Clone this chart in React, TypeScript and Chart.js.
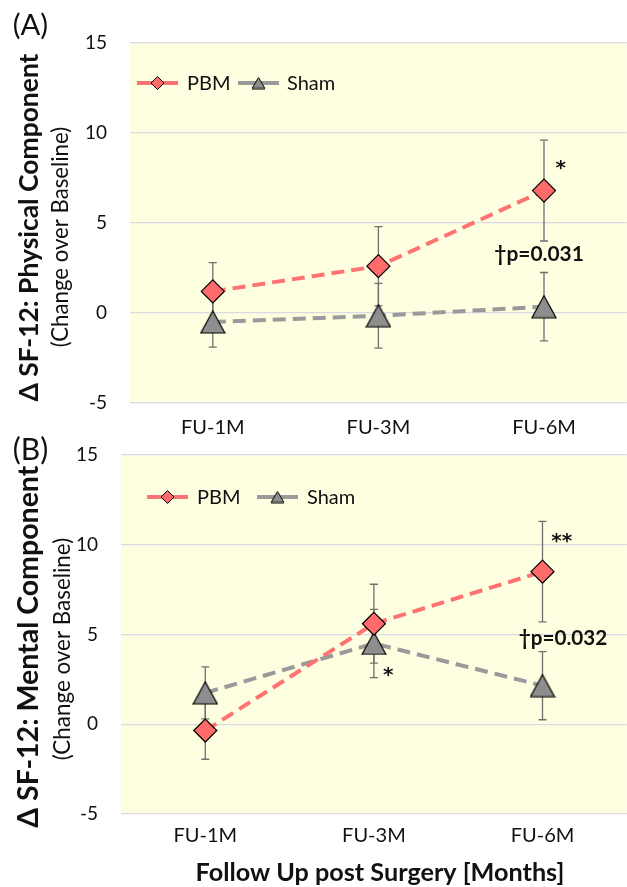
import React, { useEffect, useRef } from 'react';
import { Chart, registerables } from 'chart.js';

Chart.register(...registerables);

// ---------------- data ----------------
const categories = ['FU-1M', 'FU-3M', 'FU-6M'];
const seriesNames = ['PBM', 'Sham'];
const yMin = -5;
const yMax = 15;
const yStep = 5;

const physPBM = [1.2, 2.6, 6.8];
const physPBMErr = [1.6, 2.2, 2.8];
const physSham = [-0.5, -0.15, 0.35];
const physShamErr = [1.4, 1.8, 1.9];

const mentPBM = [-0.35, 5.6, 8.5];
const mentPBMErr = [1.6, 2.2, 2.8];
const mentSham = [1.75, 4.5, 2.15];
const mentShamErr = [1.45, 1.9, 1.9];

const physNotes = ['*', '\u2020p=0.031'];
const mentNotes = ['**', '\u2020p=0.032', '*'];

// ---------------- styles ----------------
const FONT = 'Lato, "Open Sans", sans-serif';
const STAR_FONT = 'bold 20px "DejaVu Sans", sans-serif';
const PBM_LINE = '#ff7272';
const PBM_FILL = '#ff6b6b';
const SHAM_LINE = '#9a9a9a';
const SHAM_FILL = '#8e8e8e';
const GRID = '#d9d9e2';
const PLOT_BG = '#fefee1';
const TEXT = '#111111';
const ERR = '#6f6f6f';

function makeTriangle(w: number, h: number, fill: string, lw: number) {
  const c = document.createElement('canvas');
  c.width = Math.ceil(w + 2);
  c.height = Math.ceil(h + 2);
  const ctx = c.getContext('2d')!;
  const ox = (c.width - w) / 2;
  const oy = (c.height - h) / 2;
  ctx.beginPath();
  ctx.moveTo(ox + w / 2, oy);
  ctx.lineTo(ox + w, oy + h);
  ctx.lineTo(ox, oy + h);
  ctx.closePath();
  ctx.fillStyle = fill;
  ctx.fill();
  ctx.strokeStyle = '#000';
  ctx.lineWidth = lw;
  ctx.lineJoin = 'miter';
  ctx.stroke();
  return c;
}

function drawCentered(ctx: CanvasRenderingContext2D, text: string, cx: number, cy: number, font: string, rotate = false) {
  ctx.save();
  ctx.font = font;
  ctx.fillStyle = TEXT;
  ctx.textAlign = 'left';
  ctx.textBaseline = 'alphabetic';
  const m = ctx.measureText(text);
  const w = m.actualBoundingBoxLeft + m.actualBoundingBoxRight;
  const h = m.actualBoundingBoxAscent + m.actualBoundingBoxDescent;
  ctx.translate(cx, cy);
  if (rotate) ctx.rotate(-Math.PI / 2);
  ctx.fillText(text, -w / 2 + m.actualBoundingBoxLeft, h / 2 - m.actualBoundingBoxDescent);
  ctx.restore();
}

function fitFont(ctx: CanvasRenderingContext2D, text: string, weight: string, target: number) {
  ctx.save();
  ctx.font = `${weight} 20px ${FONT}`;
  const m = ctx.measureText(text);
  ctx.restore();
  const w = m.actualBoundingBoxLeft + m.actualBoundingBoxRight;
  return `${weight} ${((20 * target) / w).toFixed(2)}px ${FONT}`;
}

type Ann = { ds: number; idx: number; text: string; dx: number; dy: number; font?: string; len?: number };
type Panel = {
  key: string;
  label: string;
  top: number;
  height: number;
  area: { left: number; right: number; top: number; bottom: number };
  xTickPad: number;
  pbm: number[];
  pbmErr: number[];
  sham: number[];
  shamErr: number[];
  title: string;
  titleLen: number;
  titleC: [number, number];
  sub: string;
  subLen: number;
  subC: [number, number];
  labelC: [number, number];
  legendY: number;
  legend: { x0: number; x1: number; tx: number }[];
  anns: Ann[];
  xTitle?: { text: string; len: number; c: [number, number] };
};

const CANVAS_W = 640;

const panels: Panel[] = [
  {
    key: 'A',
    label: '(A)',
    top: 0,
    height: 445,
    area: { left: 130, right: 634, top: 43, bottom: 403 },
    xTickPad: 13,
    pbm: physPBM,
    pbmErr: physPBMErr,
    sham: physSham,
    shamErr: physShamErr,
    title: '\u0394 SF-12: Physical Component',
    titleLen: 349,
    titleC: [30, 227.5],
    sub: '(Change over Baseline)',
    subLen: 220,
    subC: [60, 237],
    labelC: [30.5, 26],
    legendY: 83,
    legend: [
      { x0: 137, x1: 178, tx: 187 },
      { x0: 238, x1: 279, tx: 287 },
    ],
    anns: [
      { ds: 0, idx: 2, text: physNotes[0], dx: 17, dy: -26, font: STAR_FONT },
      { ds: 0, idx: 2, text: physNotes[1], dx: -5.5, dy: 64, len: 89 },
    ],
  },
  {
    key: 'B',
    label: '(B)',
    top: 430,
    height: 457,
    area: { left: 121, right: 628, top: 25, bottom: 384 },
    xTickPad: 10,
    pbm: mentPBM,
    pbmErr: mentPBMErr,
    sham: mentSham,
    shamErr: mentShamErr,
    title: '\u0394 SF-12: Mental Component',
    titleLen: 363,
    titleC: [30, 216.5],
    sub: '(Change over Baseline)',
    subLen: 222,
    subC: [62, 219],
    labelC: [30.5, 19.5],
    legendY: 67,
    legend: [
      { x0: 147, x1: 188, tx: 197 },
      { x0: 257, x1: 298, tx: 307 },
    ],
    anns: [
      { ds: 0, idx: 2, text: mentNotes[0], dx: 19.5, dy: -33.3, font: STAR_FONT },
      { ds: 0, idx: 2, text: mentNotes[1], dx: 20.5, dy: 67.3, len: 88 },
      { ds: 1, idx: 1, text: mentNotes[2], dx: 14.5, dy: 29, font: STAR_FONT },
    ],
    xTitle: { text: 'Follow Up post Surgery [Months]', len: 366, c: [380, 443] },
  },
];

function makePlugin(p: Panel, errs: number[][], legendTri: HTMLCanvasElement) {
  return {
    id: 'panel' + p.key,
    beforeDraw(chart: any) {
      const { ctx, chartArea } = chart;
      ctx.save();
      ctx.fillStyle = PLOT_BG;
      ctx.fillRect(chartArea.left, chartArea.top, chartArea.right - chartArea.left, chartArea.bottom - chartArea.top);
      ctx.restore();
    },
    beforeDatasetsDraw(chart: any) {
      const { ctx } = chart;
      const xs = chart.scales.x;
      const ys = chart.scales.y;
      ctx.save();
      ctx.strokeStyle = ERR;
      ctx.lineWidth = 1.3;
      chart.data.datasets.forEach((ds: any, di: number) => {
        ds.data.forEach((v: number, i: number) => {
          const e = errs[di][i];
          const x = xs.getPixelForValue(i);
          const yt = ys.getPixelForValue(v + e);
          const yb = ys.getPixelForValue(v - e);
          ctx.beginPath();
          ctx.moveTo(x, yt);
          ctx.lineTo(x, yb);
          ctx.moveTo(x - 4, yt);
          ctx.lineTo(x + 4, yt);
          ctx.moveTo(x - 4, yb);
          ctx.lineTo(x + 4, yb);
          ctx.stroke();
        });
      });
      ctx.restore();
    },
    afterDraw(chart: any) {
      const { ctx } = chart;
      // panel label
      drawCentered(ctx, p.label, p.labelC[0], p.labelC[1], fitFont(ctx, p.label, 'normal', 35));
      // y titles
      drawCentered(ctx, p.title, p.titleC[0], p.titleC[1], fitFont(ctx, p.title, 'bold', p.titleLen), true);
      drawCentered(ctx, p.sub, p.subC[0], p.subC[1], fitFont(ctx, p.sub, 'normal', p.subLen), true);
      if (p.xTitle) {
        drawCentered(ctx, p.xTitle.text, p.xTitle.c[0], p.xTitle.c[1], fitFont(ctx, p.xTitle.text, 'bold', p.xTitle.len));
      }
      // legend
      const colors = [PBM_LINE, SHAM_LINE];
      p.legend.forEach((it, i) => {
        const cy = p.legendY;
        ctx.save();
        ctx.strokeStyle = colors[i];
        ctx.lineWidth = 4;
        ctx.beginPath();
        ctx.moveTo(it.x0, cy);
        ctx.lineTo(it.x1, cy);
        ctx.stroke();
        const mx = (it.x0 + it.x1) / 2;
        if (i === 0) {
          const r = 6.5;
          ctx.beginPath();
          ctx.moveTo(mx - r, cy);
          ctx.lineTo(mx, cy - r);
          ctx.lineTo(mx + r, cy);
          ctx.lineTo(mx, cy + r);
          ctx.closePath();
          ctx.fillStyle = PBM_FILL;
          ctx.fill();
          ctx.strokeStyle = '#000';
          ctx.lineWidth = 1;
          ctx.stroke();
        } else {
          ctx.drawImage(legendTri, mx - legendTri.width / 2, cy - legendTri.height / 2);
        }
        ctx.font = `20px ${FONT}`;
        ctx.fillStyle = TEXT;
        ctx.textBaseline = 'alphabetic';
        ctx.textAlign = 'left';
        const hm = ctx.measureText('H');
        const capH = hm.actualBoundingBoxAscent;
        ctx.fillText(seriesNames[i], it.tx, cy + capH / 2);
        ctx.restore();
      });
      // annotations
      const xs = chart.scales.x;
      const ys = chart.scales.y;
      p.anns.forEach((a) => {
        const v = chart.data.datasets[a.ds].data[a.idx];
        const x = xs.getPixelForValue(a.idx) + a.dx;
        const y = ys.getPixelForValue(v) + a.dy;
        const font = a.font ? a.font : fitFont(ctx, a.text, 'bold', a.len || 88);
        drawCentered(ctx, a.text, x, y, font);
      });
    },
  };
}

function PanelChart({ p }: { p: Panel }) {
  const ref = useRef<HTMLCanvasElement | null>(null);
  useEffect(() => {
    const canvas = ref.current!;
    const tri = makeTriangle(24, 22, SHAM_FILL, 1.2);
    const legendTri = makeTriangle(13, 11, SHAM_FILL, 1);
    const errs = [p.pbmErr, p.shamErr];
    const xAxisH = p.height - p.area.bottom;
    const zeroPad = (s: any) => {
      s.paddingLeft = 0;
      s.paddingRight = 0;
      s.paddingTop = 0;
      s.paddingBottom = 0;
    };
    const chart = new Chart(canvas, {
      type: 'line',
      data: {
        labels: categories,
        datasets: [
          {
            label: seriesNames[0],
            data: p.pbm,
            borderColor: PBM_LINE,
            borderWidth: 4,
            borderDash: [13, 7],
            tension: 0,
            fill: false,
            pointStyle: 'rectRot',
            pointRadius: 11.5,
            pointHoverRadius: 11.5,
            pointBackgroundColor: PBM_FILL,
            pointBorderColor: '#000',
            pointBorderWidth: 1.2,
          },
          {
            label: seriesNames[1],
            data: p.sham,
            borderColor: SHAM_LINE,
            borderWidth: 4,
            borderDash: [13, 7],
            tension: 0,
            fill: false,
            pointStyle: tri as any,
            pointRadius: 12,
            pointHoverRadius: 12,
            pointBackgroundColor: SHAM_FILL,
            pointBorderColor: '#000',
            pointBorderWidth: 1.2,
          },
        ],
      },
      options: {
        animation: false,
        responsive: false,
        devicePixelRatio: 1,
        events: [],
        layout: {
          padding: { left: 0, top: p.area.top, right: CANVAS_W - p.area.right, bottom: 0 },
        },
        plugins: {
          legend: { display: false },
          tooltip: { enabled: false },
          title: { display: false },
        },
        scales: {
          x: {
            type: 'category',
            offset: true,
            grid: { display: false, drawTicks: false },
            border: { display: false },
            ticks: {
              padding: p.xTickPad,
              color: TEXT,
              font: { family: FONT, size: 20 },
              maxRotation: 0,
              autoSkip: false,
            },
            afterFit: (s: any) => {
              s.height = xAxisH;
              zeroPad(s);
            },
          },
          y: {
            min: yMin,
            max: yMax,
            ticks: {
              stepSize: yStep,
              padding: 23,
              color: TEXT,
              font: { family: FONT, size: 19 },
            },
            grid: { color: GRID, lineWidth: 1.2, drawTicks: false },
            border: { display: false },
            afterFit: (s: any) => {
              s.width = p.area.left;
              zeroPad(s);
            },
          },
        },
      },
      plugins: [makePlugin(p, errs, legendTri)],
    });
    if ((document as any).fonts && (document as any).fonts.ready) {
      (document as any).fonts.ready.then(() => {
        try {
          chart.update();
        } catch (e) {
          /* ignore */
        }
      });
    }
    return () => chart.destroy();
  }, [p]);
  return (
    <canvas
      ref={ref}
      width={CANVAS_W}
      height={p.height}
      style={{ position: 'absolute', left: 0, top: p.top, width: CANVAS_W, height: p.height }}
    />
  );
}

export default function App() {
  return (
    <div
      style={{
        position: 'absolute',
        left: 0,
        top: 0,
        width: 627,
        height: 887,
        overflow: 'hidden',
        background: '#ffffff',
      }}
    >
      {panels.map((p) => (
        <PanelChart key={p.key} p={p} />
      ))}
    </div>
  );
}
